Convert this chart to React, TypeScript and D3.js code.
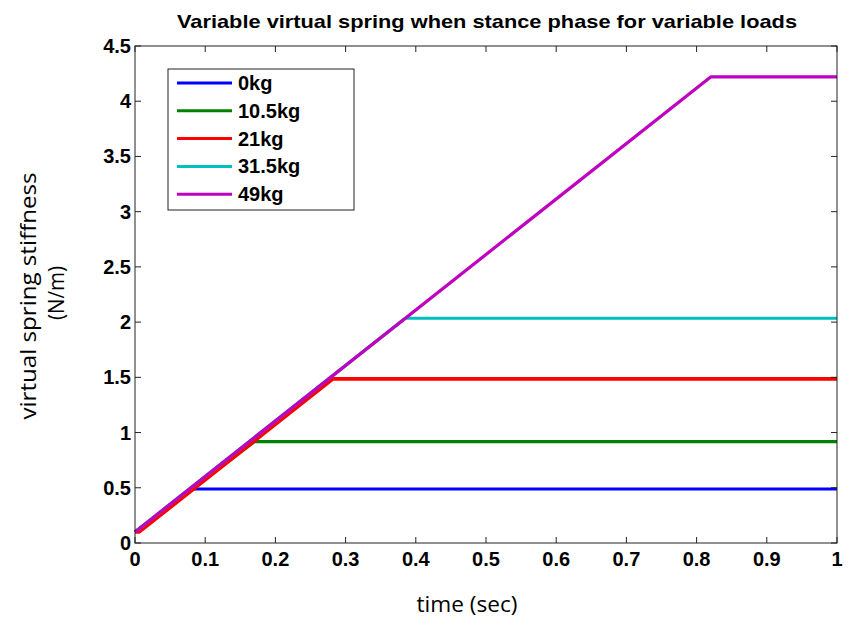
import React, { useRef, useEffect } from 'react';
import * as d3 from 'd3';

const title = 'Variable virtual spring when stance phase for variable loads';
const xLabel = 'time (sec)';
const yLabelLines = ['virtual spring stiffness', '(N/m)'];

const seriesNames = ['0kg', '10.5kg', '21kg', '31.5kg', '49kg'];
const seriesColors = ['#0000ff', '#008000', '#ff0000', '#00bfbf', '#bf00bf'];

// [time, stiffness] breakpoints
const load0 = [[0, 0.1], [0.082, 0.489], [1, 0.489]];
const load10 = [[0, 0.1], [0.17, 0.918], [1, 0.918]];
const load21 = [[0, 0.1], [0.006, 0.1], [0.282, 1.486], [1, 1.486]];
const load31 = [[0, 0.1], [0.385, 2.035], [1, 2.035]];
const load49 = [[0, 0.1], [0.82, 4.22], [1, 4.22]];
const seriesData = [load0, load10, load21, load31, load49];

const xTicks = [0, 0.1, 0.2, 0.3, 0.4, 0.5, 0.6, 0.7, 0.8, 0.9, 1];
const yTicks = [0, 0.5, 1, 1.5, 2, 2.5, 3, 3.5, 4, 4.5];

const App = () => {
  const svgRef = useRef(null);
  const width = 859;
  const height = 632;
  const margin = { top: 46, right: 22, bottom: 89, left: 135 };

  useEffect(() => {
    const svg = d3.select(svgRef.current);
    svg.selectAll('*').remove();

    const x = d3.scaleLinear().domain([0, 1]).range([margin.left, width - margin.right]);
    const y = d3.scaleLinear().domain([0, 4.5]).range([height - margin.bottom, margin.top]);

    const x0 = x(0), x1 = x(1), y0 = y(0), y1 = y(4.5);
    const axisColor = '#222';
    const bold = 'Liberation Sans, Arial, sans-serif';
    const plain = 'Open Sans, DejaVu Sans, sans-serif';

    // plot lines
    const line = d3.line().x(d => x(d[0])).y(d => y(d[1]));
    seriesData.forEach((s, i) => {
      svg.append('path')
        .datum(s)
        .attr('fill', 'none')
        .attr('stroke', seriesColors[i])
        .attr('stroke-width', i === 2 ? 3.6 : 3.2)
        .attr('stroke-linejoin', 'round')
        .attr('d', line);
    });

    // box
    svg.append('rect')
      .attr('x', x0).attr('y', y1)
      .attr('width', x1 - x0).attr('height', y0 - y1)
      .attr('fill', 'none')
      .attr('stroke', axisColor)
      .attr('stroke-width', 1);

    const tickLen = 6;
    xTicks.forEach(t => {
      svg.append('line').attr('x1', x(t)).attr('x2', x(t))
        .attr('y1', y0).attr('y2', y0 - tickLen).attr('stroke', axisColor);
      svg.append('line').attr('x1', x(t)).attr('x2', x(t))
        .attr('y1', y1).attr('y2', y1 + tickLen).attr('stroke', axisColor);
      svg.append('text')
        .attr('x', x(t)).attr('y', y0 + 23)
        .attr('text-anchor', 'middle')
        .style('font-family', bold).style('font-weight', 'bold').style('font-size', '20px')
        .text(String(t));
    });

    yTicks.forEach(t => {
      svg.append('line').attr('x1', x0).attr('x2', x0 + tickLen)
        .attr('y1', y(t)).attr('y2', y(t)).attr('stroke', axisColor);
      svg.append('line').attr('x1', x1).attr('x2', x1 - tickLen)
        .attr('y1', y(t)).attr('y2', y(t)).attr('stroke', axisColor);
      svg.append('text')
        .attr('x', x0 - 4).attr('y', y(t) + 7)
        .attr('text-anchor', 'end')
        .style('font-family', bold).style('font-weight', 'bold').style('font-size', '20px')
        .text(String(t));
    });

    // title
    svg.append('text')
      .attr('x', (x0 + x1) / 2 + 1).attr('y', 28)
      .attr('text-anchor', 'middle')
      .attr('textLength', 620).attr('lengthAdjust', 'spacingAndGlyphs')
      .style('font-family', bold).style('font-weight', 'bold').style('font-size', '19px')
      .text(title);

    // axis labels
    svg.append('text')
      .attr('x', 467).attr('y', 612)
      .attr('text-anchor', 'middle')
      .attr('textLength', 101).attr('lengthAdjust', 'spacingAndGlyphs')
      .style('font-family', plain).style('font-size', '21px')
      .text(xLabel);

    const yLens = [247, 54];
    yLabelLines.forEach((l, i) => {
      svg.append('text')
        .attr('transform', `translate(${36 + i * 28},${i === 0 ? 296 : 293}) rotate(-90)`)
        .attr('text-anchor', 'middle')
        .attr('textLength', yLens[i]).attr('lengthAdjust', 'spacingAndGlyphs')
        .style('font-family', plain).style('font-size', '21px')
        .text(l);
    });

    // legend
    const lg = svg.append('g').attr('transform', 'translate(168,69)');
    lg.append('rect')
      .attr('width', 186).attr('height', 141)
      .attr('fill', 'white').attr('stroke', axisColor);
    seriesNames.forEach((n, i) => {
      const ly = 14 + i * 27.8;
      lg.append('line')
        .attr('x1', 9).attr('x2', 64).attr('y1', ly).attr('y2', ly)
        .attr('stroke', seriesColors[i]).attr('stroke-width', 3);
      lg.append('text')
        .attr('x', 70).attr('y', ly + 7)
        .style('font-family', bold).style('font-weight', 'bold').style('font-size', '20px')
        .text(n);
    });
  }, []);

  return (
    <svg ref={svgRef} width={width} height={height}
      style={{ position: 'absolute', left: 0, top: 0, background: 'white' }}></svg>
  );
};

export default App;
